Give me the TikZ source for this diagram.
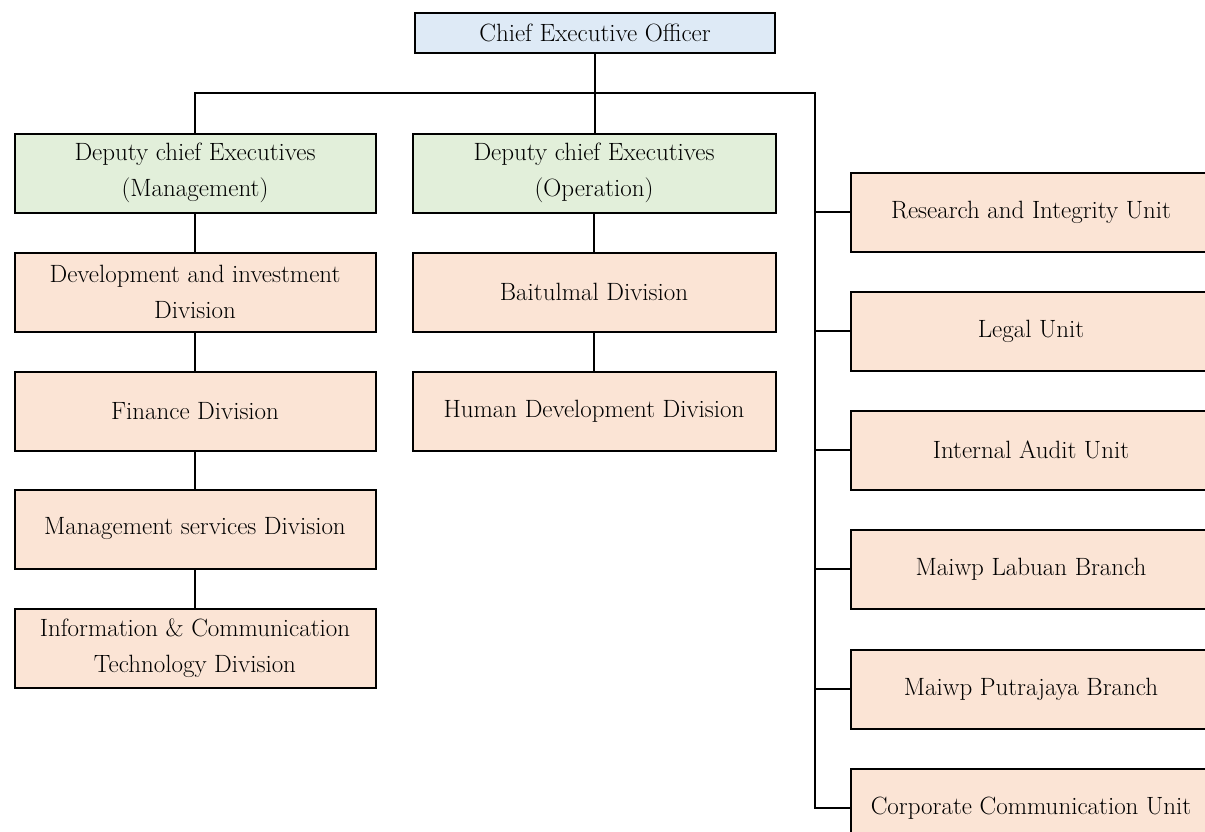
\documentclass[tikz,border=0pt]{standalone}
\usepackage{fontspec}
\usetikzlibrary{positioning}
\definecolor{ceoblue}{HTML}{DEEAF6}
\definecolor{deputygreen}{HTML}{E2EFDA}
\definecolor{unitpink}{HTML}{FBE4D5}

\begin{document}
\begin{tikzpicture}[x=1pt, y=-1pt, line width=2pt,
    orgbox/.style={draw, fill=unitpink, minimum width=361pt, minimum height=79pt,
      align=center, inner sep=2pt, font=\fontsize{25}{36}\selectfont},
    ceobox/.style={orgbox, fill=ceoblue, minimum width=360pt, minimum height=40pt},
    deputybox/.style={orgbox, fill=deputygreen}]
    \useasboundingbox (0,0) rectangle (1205,831);
    \clip (0,0) rectangle (1205,831);

    % top
    \node[ceobox] (ceo) at (595,33) {Chief Executive Officer};
    \coordinate (spine) at (815,93);

    % deputies
    \node[deputybox] (mgmt) at (195,173) {Deputy chief Executives\\(Management)};
    \node[deputybox, minimum width=363pt] (oper) at (594,173) {Deputy chief Executives\\(Operation)};

    % management column
    \node[orgbox] (devinv) at (195,292) {Development and investment\\Division};
    \node[orgbox] (finance) at (195,411) {Finance Division};
    \node[orgbox] (mgmtsvc) at (195,529) {Management services Division};
    \node[orgbox] (ict) at (195,648) {Information \& Communication\\Technology Division};

    % operation column
    \node[orgbox, minimum width=363pt] (baitul) at (594,292) {Baitulmal Division};
    \node[orgbox, minimum width=363pt] (humdev) at (594,411) {Human Development Division};

    % units on the right
    \node[orgbox] (research) at (1031,212) {Research and Integrity Unit};
    \node[orgbox] (legal) at (1031,331) {Legal Unit};
    \node[orgbox] (audit) at (1031,450) {Internal Audit Unit};
    \node[orgbox] (labuan) at (1031,569) {Maiwp Labuan Branch};
    \node[orgbox] (putra) at (1031,689) {Maiwp Putrajaya Branch};
    \node[orgbox] (corp) at (1031,808) {Corporate Communication Unit};

    % connectors
    \draw (ceo.south) -- (ceo.south |- oper.north);
    \draw (mgmt.north) |- (spine) |- (corp.west);
    \foreach \u in {research, legal, audit, labuan, putra}
        \draw (spine |- \u.west) -- (\u.west);
    \draw (mgmt) -- (devinv);
    \draw (devinv) -- (finance);
    \draw (finance) -- (mgmtsvc);
    \draw (mgmtsvc) -- (ict);
    \draw (oper) -- (baitul);
    \draw (baitul) -- (humdev);
\end{tikzpicture}
\end{document}
